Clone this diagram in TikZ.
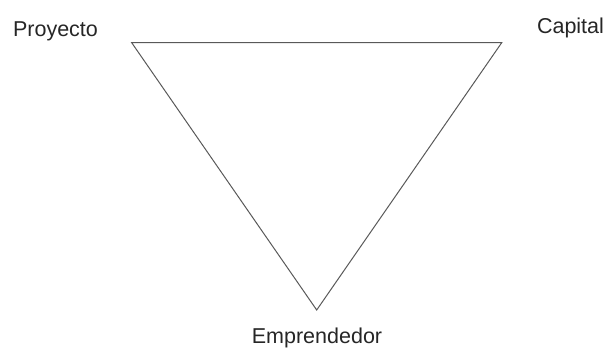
\documentclass[tikz,border=0pt]{standalone}
\usepackage{fontspec}
\setmainfont{Liberation Sans}
\begin{document}
\begin{tikzpicture}[x=1pt,y=-1pt,
  lbl/.style={inner sep=0pt,anchor=base,font=\fontsize{21.5}{24}\selectfont,text=black!85},
  edge/.style={draw=black!65,line width=1pt}]
\useasboundingbox (0,0) rectangle (610,348);
\coordinate (p) at (131.7,42.7);
\coordinate (c) at (501.7,42.7);
\coordinate (e) at (316.7,310);
\draw[edge,line join=miter] (p) -- (c) -- (e) -- cycle;
\node[lbl] (lp) at (55.5,36) {Proyecto};
\node[lbl] (lc) at (570.5,33) {Capital};
\node[lbl] (le) at (317,343) {Emprendedor};
\end{tikzpicture}
\end{document}
